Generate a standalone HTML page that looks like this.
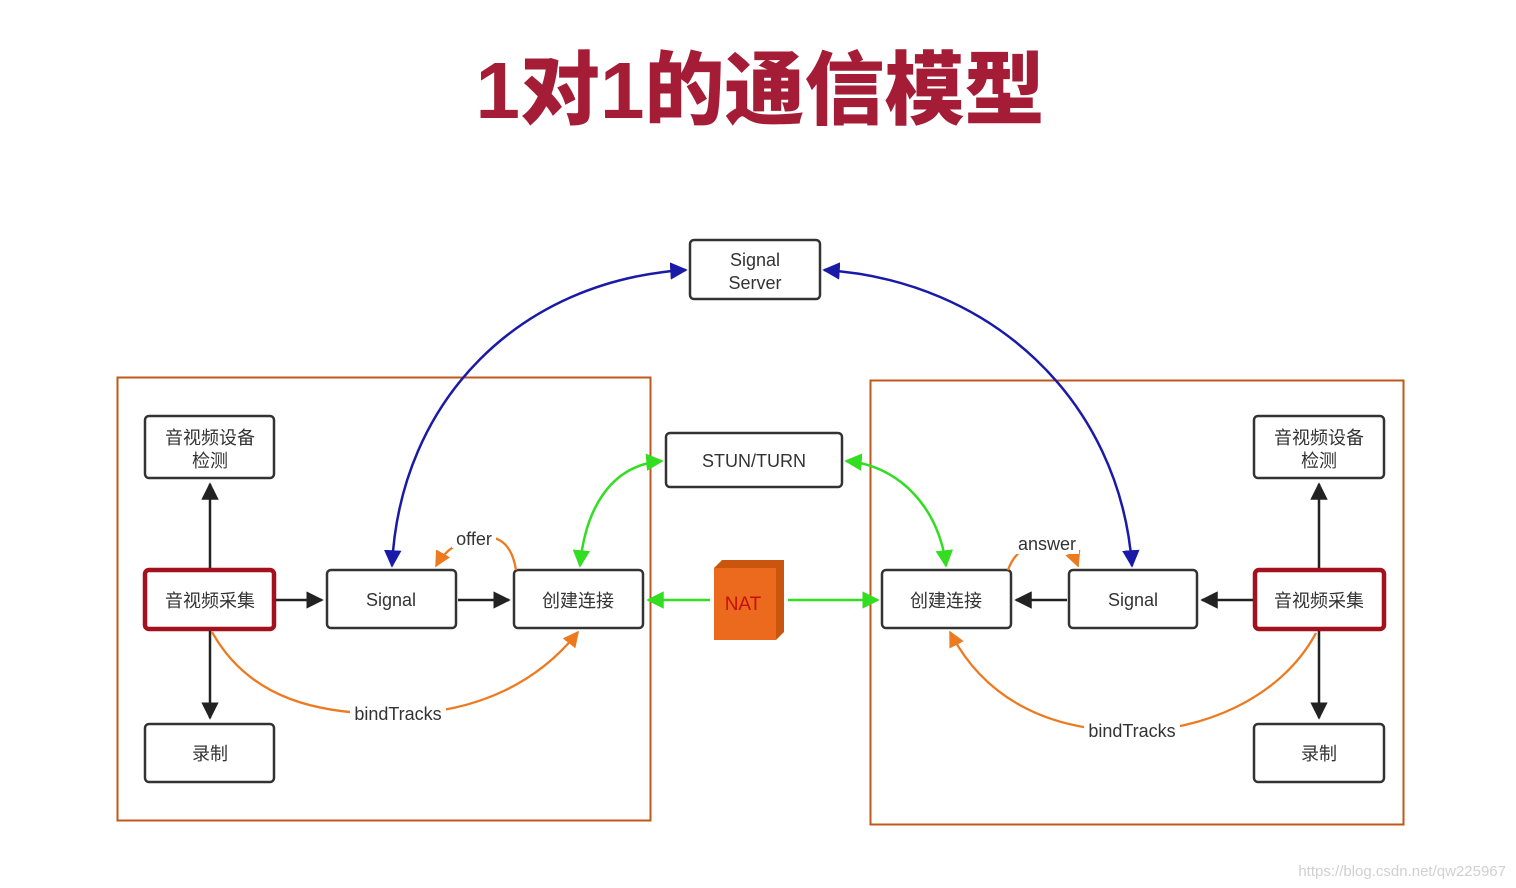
<!DOCTYPE html>
<html><head><meta charset="utf-8"><style>
body{margin:0;background:#fff;width:1516px;height:888px;overflow:hidden}
svg{display:block}
.t{font-family:"Liberation Sans","Noto Sans CJK SC",sans-serif;fill:#333;font-size:18px;text-anchor:middle}
</style></head><body>
<svg width="1516" height="888" viewBox="0 0 1516 888">
<defs>
<marker id="ab" viewBox="0 0 10 10" refX="9" refY="5" markerWidth="7" markerHeight="7" orient="auto-start-reverse"><path d="M0,0L10,5L0,10z" fill="#222"/></marker>
<marker id="ablue" viewBox="0 0 10 10" refX="9" refY="5" markerWidth="7" markerHeight="7" orient="auto-start-reverse"><path d="M0,0L10,5L0,10z" fill="#1a1aa8"/></marker>
<marker id="ag" viewBox="0 0 10 10" refX="9" refY="5" markerWidth="7" markerHeight="7" orient="auto-start-reverse"><path d="M0,0L10,5L0,10z" fill="#33dd22"/></marker>
<marker id="ao" viewBox="0 0 10 10" refX="9" refY="5" markerWidth="7" markerHeight="7" orient="auto-start-reverse"><path d="M0,0L10,5L0,10z" fill="#ee7a20"/></marker>
</defs>
<text x="760" y="118" font-family="'Liberation Sans','Noto Sans CJK SC',sans-serif" font-weight="900" font-size="80" fill="#a41c35" text-anchor="middle">1对1的通信模型</text>

<rect x="117.5" y="377.5" width="533" height="443" fill="none" stroke="#c0581e" stroke-width="2"/>
<rect x="870.5" y="380.5" width="533" height="444" fill="none" stroke="#c0581e" stroke-width="2"/>

<g fill="#fff" stroke="#333" stroke-width="2.5">
<rect x="690" y="240" width="130" height="59" rx="4"/>
<rect x="666" y="433" width="176" height="54" rx="4"/>
<rect x="145" y="416" width="129" height="62" rx="4"/>
<rect x="327" y="570" width="129" height="58" rx="4"/>
<rect x="514" y="570" width="129" height="58" rx="4"/>
<rect x="145" y="724" width="129" height="58" rx="4"/>
<rect x="882" y="570" width="129" height="58" rx="4"/>
<rect x="1069" y="570" width="128" height="58" rx="4"/>
<rect x="1254" y="416" width="130" height="62" rx="4"/>
<rect x="1254" y="724" width="130" height="58" rx="4"/>
</g>
<g fill="#fff" stroke="#a3101e" stroke-width="4.5">
<rect x="145" y="570" width="129" height="59" rx="4"/>
<rect x="1255" y="570" width="129" height="59" rx="4"/>
</g>

<!-- NAT -->
<polygon points="714,568 722,560 784,560 784,632 776,640 714,640" fill="#c9550f"/>
<rect x="714" y="568" width="62" height="72" fill="#ec6a1e"/>
<text x="743" y="610" font-family="Liberation Sans,sans-serif" font-size="19" fill="#c41010" text-anchor="middle">NAT</text>

<g class="t">
<text x="755" y="266">Signal</text><text x="755" y="289">Server</text>
<text x="754" y="467">STUN/TURN</text>
<text x="210" y="444">音视频设备</text><text x="210" y="467">检测</text>
<text x="210" y="607">音视频采集</text>
<text x="391" y="606">Signal</text>
<text x="578" y="607">创建连接</text>
<text x="210" y="760">录制</text>
<text x="946" y="607">创建连接</text>
<text x="1133" y="606">Signal</text>
<text x="1319" y="607">音视频采集</text>
<text x="1319" y="444">音视频设备</text><text x="1319" y="467">检测</text>
<text x="1319" y="760">录制</text>
</g>

<g stroke="#222" stroke-width="2.5" fill="none">
<line x1="210" y1="568" x2="210" y2="484" marker-end="url(#ab)"/>
<line x1="210" y1="631" x2="210" y2="718" marker-end="url(#ab)"/>
<line x1="276" y1="600" x2="322" y2="600" marker-end="url(#ab)"/>
<line x1="458" y1="600" x2="509" y2="600" marker-end="url(#ab)"/>
<line x1="1319" y1="568" x2="1319" y2="484" marker-end="url(#ab)"/>
<line x1="1319" y1="631" x2="1319" y2="718" marker-end="url(#ab)"/>
<line x1="1253" y1="600" x2="1202" y2="600" marker-end="url(#ab)"/>
<line x1="1067" y1="600" x2="1016" y2="600" marker-end="url(#ab)"/>
</g>

<g stroke="#1a1aa8" stroke-width="2.5" fill="none">
<path d="M392,566 C400,400 520,280 686,270" marker-start="url(#ablue)" marker-end="url(#ablue)"/>
<path d="M824,270 C990,280 1120,400 1132,566" marker-start="url(#ablue)" marker-end="url(#ablue)"/>
</g>
<g stroke="#33dd22" stroke-width="2.5" fill="none">
<path d="M580,566 C585,510 610,465 662,461" marker-start="url(#ag)" marker-end="url(#ag)"/>
<path d="M846,461 C900,465 940,510 946,566" marker-start="url(#ag)" marker-end="url(#ag)"/>
<line x1="710" y1="600" x2="648" y2="600" marker-end="url(#ag)"/>
<line x1="788" y1="600" x2="878" y2="600" marker-end="url(#ag)"/>
</g>
<g stroke="#ee7a20" stroke-width="2.3" fill="none">
<path d="M516,570 C512,545 500,535 480,537 C460,540 445,550 436,566" marker-end="url(#ao)"/>
<path d="M212,632 C250,700 320,715 398,714 C480,713 540,680 578,632" marker-end="url(#ao)"/>
<path d="M1008,570 C1015,550 1030,543 1048,543 C1065,544 1073,553 1078,566" marker-end="url(#ao)"/>
<path d="M1316,633 C1280,700 1200,731 1132,731 C1050,731 985,700 950,632" marker-end="url(#ao)"/>
</g>
<g font-family="Liberation Sans,sans-serif" font-size="18" fill="#333" text-anchor="middle">
<rect x="452" y="528" width="44" height="20" fill="#fff"/><text x="474" y="545">offer</text>
<rect x="1015" y="534" width="64" height="20" fill="#fff"/><text x="1047" y="550">answer</text>
<rect x="350" y="704" width="96" height="20" fill="#fff"/><text x="398" y="720">bindTracks</text>
<rect x="1084" y="721" width="96" height="20" fill="#fff"/><text x="1132" y="737">bindTracks</text>
</g>
<text x="1506" y="876" font-family="Liberation Sans,sans-serif" font-size="15" fill="#d0d0d0" text-anchor="end">https://blog.csdn.net/qw225967</text>
</svg>
</body></html>
